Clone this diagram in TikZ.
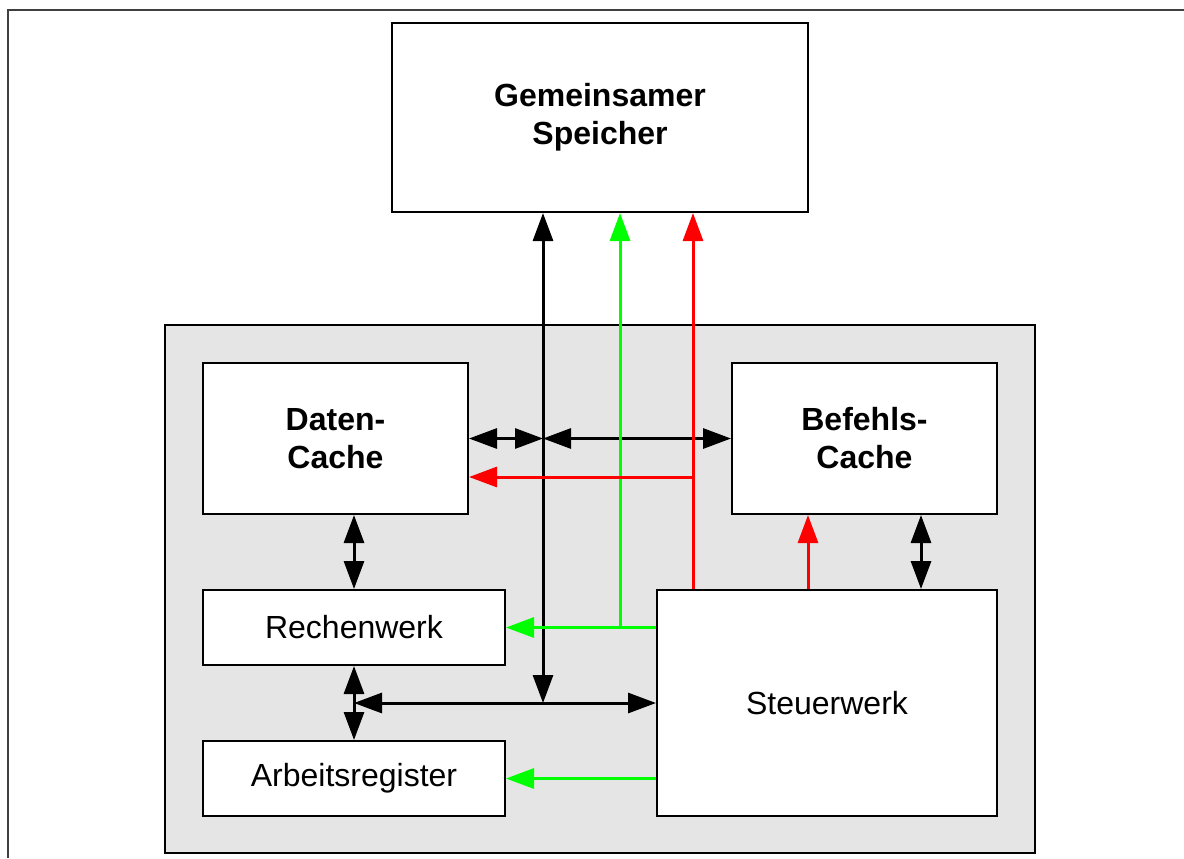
\documentclass[tikz,border=0pt]{standalone}
\usepackage{fontspec}
\setmainfont{Liberation Sans}
\usetikzlibrary{arrows.meta}

\definecolor{rahmen}{gray}{0.9}
\definecolor{gruen}{RGB}{0,255,0}
\definecolor{rot}{RGB}{255,0,0}

\tikzset{
    einheit/.style={draw, fill=white, line width=1pt, inner sep=0pt, align=center,
        font=\fontsize{16}{19}\selectfont},
    fett/.style={einheit, font=\fontsize{16}{19}\selectfont\bfseries},
    tip/.tip={Triangle[length=14pt, width=10pt]},
    bus/.style={line width=1.5pt, tip-tip},
    leitung/.style={line width=1.5pt, -tip},
}

\begin{document}
\begin{tikzpicture}[x=0.5pt, y=-0.5pt]
    \useasboundingbox (0,0) rectangle (1184,858);
    % frame
    \draw[line width=0.8pt, black!75] (8,858) -- (8,10) -- (1184,10);
    % memory and processor
    \node[fett, minimum width=208pt, minimum height=94.5pt] (speicher) at (600,117.5) {Gemeinsamer\\Speicher};
    \draw[line width=1pt, fill=rahmen] (165,325) rectangle (1035,853);
    \node[fett, minimum width=132.5pt, minimum height=75.5pt] (daten) at (335.5,438.5) {Daten-\\Cache};
    \node[fett, minimum width=132.5pt, minimum height=75.5pt] (befehl) at (864.5,438.5) {Befehls-\\Cache};
    \node[einheit, minimum width=151pt, minimum height=37.5pt] (rechen) at (354,627.5) {Rechenwerk};
    \node[einheit, minimum width=151pt, minimum height=37.5pt] (register) at (354,778.5) {Arbeitsregister};
    \node[einheit, minimum width=170pt, minimum height=113pt] (steuer) at (827,703) {Steuerwerk};
    % branch points
    \coordinate (datenbus) at (543,703);
    \coordinate (cachebus) at (543,438.5);
    \coordinate (gruenab) at (620,627.5);
    \coordinate (rotab) at (693,477);
    \coordinate (links) at (354,703);
    % data bus
    \draw[bus] (speicher.south -| datenbus) -- (datenbus);
    \draw[bus] (links) -- (links -| steuer.west);
    \draw[bus] (daten.east) -- (cachebus);
    \draw[bus] (cachebus) -- (befehl.west);
    \draw[bus] (daten.south -| links) -- (rechen.north -| links);
    \draw[bus] (rechen.south -| links) -- (register.north -| links);
    \draw[bus] (befehl.south -| 921,0) -- (steuer.north -| 921,0);
    % control lines
    \draw[leitung, gruen] (gruenab -| steuer.west) -- (rechen.east |- gruenab);
    \draw[leitung, gruen] (gruenab) -- (speicher.south -| gruenab);
    \draw[leitung, gruen] (steuer.west |- register.east) -- (register.east);
    \draw[leitung, rot] (steuer.north -| rotab) -- (speicher.south -| rotab);
    \draw[leitung, rot] (rotab) -- (rotab -| daten.east);
    \draw[leitung, rot] (steuer.north -| 808,0) -- (befehl.south -| 808,0);
\end{tikzpicture}
\end{document}
